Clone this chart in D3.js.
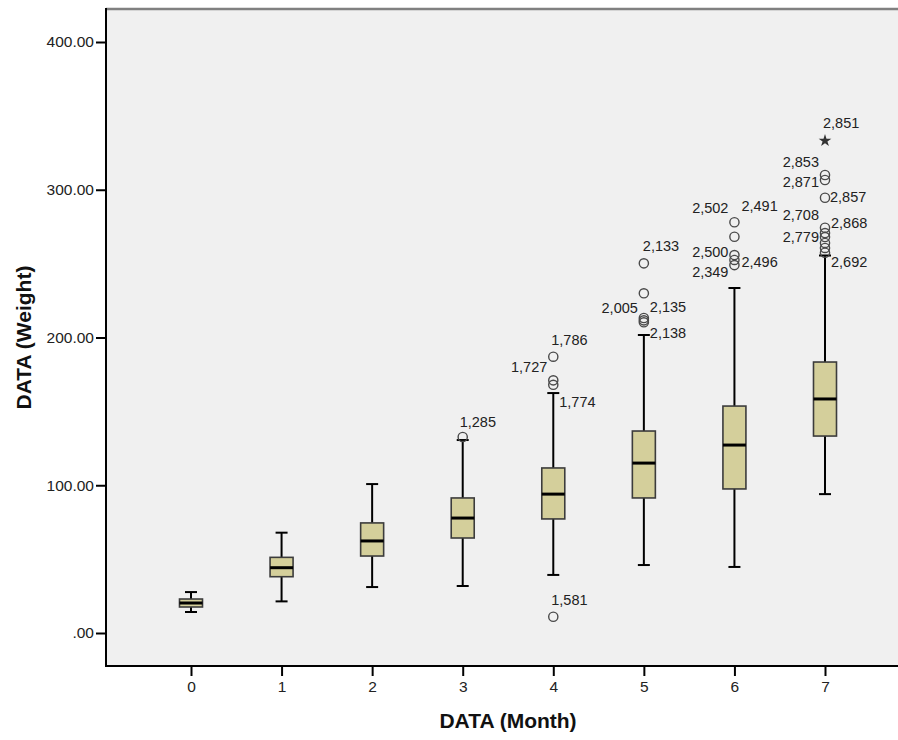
<!DOCTYPE html>
<html>
<head>
<meta charset="utf-8">
<script src="https://cdn.jsdelivr.net/npm/d3@7"></script>
<style>
  body { margin: 0; background: #fff; }
  text { font-family: "Liberation Sans", Arial, sans-serif; }
</style>
</head>
<body>
<svg id="chart"></svg>
<script>
const width = 898;
const height = 740;

// box plot summaries per month
const months = [0, 1, 2, 3, 4, 5, 6, 7];
const whiskerLow = [14.2, 21.4, 31.1, 31.8, 39.3, 46.0, 44.7, 94.0];
const q1 = [17.6, 38.1, 52.1, 64.3, 77.2, 91.4, 97.5, 133.3];
const median = [20.3, 44.2, 62.3, 77.8, 94.0, 115.0, 127.2, 158.4];
const q3 = [23.0, 51.2, 74.5, 91.4, 111.7, 136.7, 153.6, 183.4];
const whiskerHigh = [27.7, 67.9, 100.8, 130.6, 162.4, 201.7, 233.5, 255.5];

// outliers: month, value, case label, extreme (star)
const outliers = [
    {month: 3, value: 132.7, id: "1,285"},
    {month: 4, value: 187.0, id: "1,786"},
    {month: 4, value: 171.0, id: "1,727"},
    {month: 4, value: 168.0, id: "1,774"},
    {month: 4, value: 11.0, id: "1,581"},
    {month: 5, value: 250.2, id: "2,133"},
    {month: 5, value: 229.9, id: ""},
    {month: 5, value: 213.2, id: "2,005"},
    {month: 5, value: 211.6, id: "2,135"},
    {month: 5, value: 210.3, id: "2,138"},
    {month: 6, value: 278.0, id: "2,502"},
    {month: 6, value: 268.2, id: "2,491"},
    {month: 6, value: 255.8, id: "2,500"},
    {month: 6, value: 252.5, id: "2,496"},
    {month: 6, value: 249.0, id: "2,349"},
    {month: 7, value: 333.2, id: "2,851", extreme: true},
    {month: 7, value: 310.0, id: "2,853"},
    {month: 7, value: 306.6, id: "2,871"},
    {month: 7, value: 294.6, id: "2,857"},
    {month: 7, value: 274.3, id: "2,708"},
    {month: 7, value: 270.7, id: "2,868"},
    {month: 7, value: 268.0, id: ""},
    {month: 7, value: 264.0, id: "2,779"},
    {month: 7, value: 260.6, id: ""},
    {month: 7, value: 257.4, id: "2,692"}
];

const yTicks = [0, 100, 200, 300, 400];

// where each case label sits relative to its marker: [dx, dy, anchor]
const labelPlace = {
    "1,285": [-3, -10, "start"],
    "1,786": [-2, -12, "start"],
    "1,727": [-6, -8, "end"],
    "1,774": [6, 22, "start"],
    "1,581": [-2, -12, "start"],
    "2,133": [-1, -12, "start"],
    "2,005": [-6, -5, "end"],
    "2,135": [6, -8, "start"],
    "2,138": [6, 16, "start"],
    "2,502": [-6, -9, "end"],
    "2,491": [7, -26, "start"],
    "2,500": [-6, 2, "end"],
    "2,496": [7, 7, "start"],
    "2,349": [-6, 12, "end"],
    "2,851": [-2, -13, "start"],
    "2,853": [-6, -8, "end"],
    "2,871": [-6, 7, "end"],
    "2,857": [5, 4, "start"],
    "2,708": [-6, -8, "end"],
    "2,868": [6, -5, "start"],
    "2,779": [-6, -1, "end"],
    "2,692": [6, 14, "start"]
};

const plot = {left: 106, top: 9, right: 898, bottom: 666};

const svg = d3.select("#chart")
    .attr("width", width)
    .attr("height", height);

const x = d3.scalePoint()
    .domain(months)
    .range([191, 825]);

const y = d3.scaleLinear()
    .domain([0, 400])
    .range([633, 42]);

// plot background
svg.append("rect")
    .attr("x", plot.left)
    .attr("y", plot.top)
    .attr("width", plot.right - plot.left)
    .attr("height", plot.bottom - plot.top)
    .attr("fill", "#f0f0f0");

// top frame line
svg.append("line")
    .attr("x1", plot.left).attr("x2", plot.right)
    .attr("y1", plot.top).attr("y2", plot.top)
    .attr("stroke", "#808080")
    .attr("stroke-width", 2.5);

// y axis
const yAxis = svg.append("g")
    .attr("transform", `translate(${plot.left},0)`)
    .call(d3.axisLeft(y)
        .tickValues(yTicks)
        .tickSize(10)
        .tickPadding(2)
        .tickFormat(d => d === 0 ? ".00" : d3.format(".2f")(d)));
yAxis.select(".domain").remove();
yAxis.selectAll(".tick line").attr("stroke", "#000").attr("stroke-width", 2);
yAxis.selectAll(".tick text")
    .attr("font-size", 15.5)
    .attr("fill", "#222")
    .style("font-family", "'Liberation Sans', Arial, sans-serif");

// x axis
const xAxis = svg.append("g")
    .attr("transform", `translate(0,${plot.bottom})`)
    .call(d3.axisBottom(x)
        .tickSize(10)
        .tickPadding(5));
xAxis.select(".domain").remove();
xAxis.selectAll(".tick line").attr("stroke", "#000").attr("stroke-width", 2);
xAxis.selectAll(".tick text")
    .attr("font-size", 15.5)
    .attr("fill", "#222")
    .style("font-family", "'Liberation Sans', Arial, sans-serif");

// axis lines
svg.append("line")
    .attr("x1", plot.left).attr("x2", plot.left)
    .attr("y1", plot.top - 1).attr("y2", plot.bottom)
    .attr("stroke", "#000").attr("stroke-width", 2);
svg.append("line")
    .attr("x1", plot.left - 1).attr("x2", plot.right)
    .attr("y1", plot.bottom).attr("y2", plot.bottom)
    .attr("stroke", "#000").attr("stroke-width", 2);

// boxes
const boxW = 23;
const capW = 12;
const boxes = months.map((m, i) => ({
    month: m, lo: whiskerLow[i], q1: q1[i], med: median[i], q3: q3[i], hi: whiskerHigh[i]
}));

const g = svg.append("g").attr("class", "boxes");
const box = g.selectAll("g.box")
    .data(boxes)
    .enter().append("g")
    .attr("class", "box");

box.append("line")
    .attr("x1", d => x(d.month)).attr("x2", d => x(d.month))
    .attr("y1", d => y(d.hi)).attr("y2", d => y(d.q3))
    .attr("stroke", "#000").attr("stroke-width", 2);
box.append("line")
    .attr("x1", d => x(d.month)).attr("x2", d => x(d.month))
    .attr("y1", d => y(d.q1)).attr("y2", d => y(d.lo))
    .attr("stroke", "#000").attr("stroke-width", 2);
box.append("line")
    .attr("x1", d => x(d.month) - capW / 2).attr("x2", d => x(d.month) + capW / 2)
    .attr("y1", d => y(d.hi)).attr("y2", d => y(d.hi))
    .attr("stroke", "#000").attr("stroke-width", 2);
box.append("line")
    .attr("x1", d => x(d.month) - capW / 2).attr("x2", d => x(d.month) + capW / 2)
    .attr("y1", d => y(d.lo)).attr("y2", d => y(d.lo))
    .attr("stroke", "#000").attr("stroke-width", 2);
box.append("rect")
    .attr("x", d => x(d.month) - boxW / 2)
    .attr("y", d => y(d.q3))
    .attr("width", boxW)
    .attr("height", d => y(d.q1) - y(d.q3))
    .attr("fill", "#d4cf9b")
    .attr("stroke", "#3c3c3c")
    .attr("stroke-width", 1.6);
box.append("line")
    .attr("x1", d => x(d.month) - boxW / 2).attr("x2", d => x(d.month) + boxW / 2)
    .attr("y1", d => y(d.med)).attr("y2", d => y(d.med))
    .attr("stroke", "#000").attr("stroke-width", 3);

// outliers
const og = svg.append("g").attr("class", "outliers");
og.selectAll("circle")
    .data(outliers.filter(d => !d.extreme))
    .enter().append("circle")
    .attr("cx", d => x(d.month))
    .attr("cy", d => y(d.value))
    .attr("r", 4.6)
    .attr("fill", "none")
    .attr("stroke", "#4a4a4a")
    .attr("stroke-width", 1.4);

og.selectAll("path")
    .data(outliers.filter(d => d.extreme))
    .enter().append("path")
    .attr("d", d3.symbol().type(d3.symbolStar).size(50))
    .attr("transform", d => `translate(${x(d.month)},${y(d.value)})`)
    .attr("fill", "#333");

og.selectAll("text")
    .data(outliers.filter(d => d.id))
    .enter().append("text")
    .attr("x", d => x(d.month) + labelPlace[d.id][0])
    .attr("y", d => y(d.value) + labelPlace[d.id][1])
    .attr("text-anchor", d => labelPlace[d.id][2])
    .attr("font-size", 14.5)
    .attr("fill", "#222")
    .text(d => d.id);

// axis titles
svg.append("text")
    .attr("x", 508)
    .attr("y", 728)
    .attr("text-anchor", "middle")
    .attr("font-size", 21)
    .attr("font-weight", "bold")
    .attr("fill", "#111")
    .text("DATA (Month)");

svg.append("text")
    .attr("transform", `translate(31,${(plot.top + plot.bottom) / 2}) rotate(-90)`)
    .attr("text-anchor", "middle")
    .attr("font-size", 21)
    .attr("font-weight", "bold")
    .attr("fill", "#111")
    .text("DATA (Weight)");
</script>
</body>
</html>
